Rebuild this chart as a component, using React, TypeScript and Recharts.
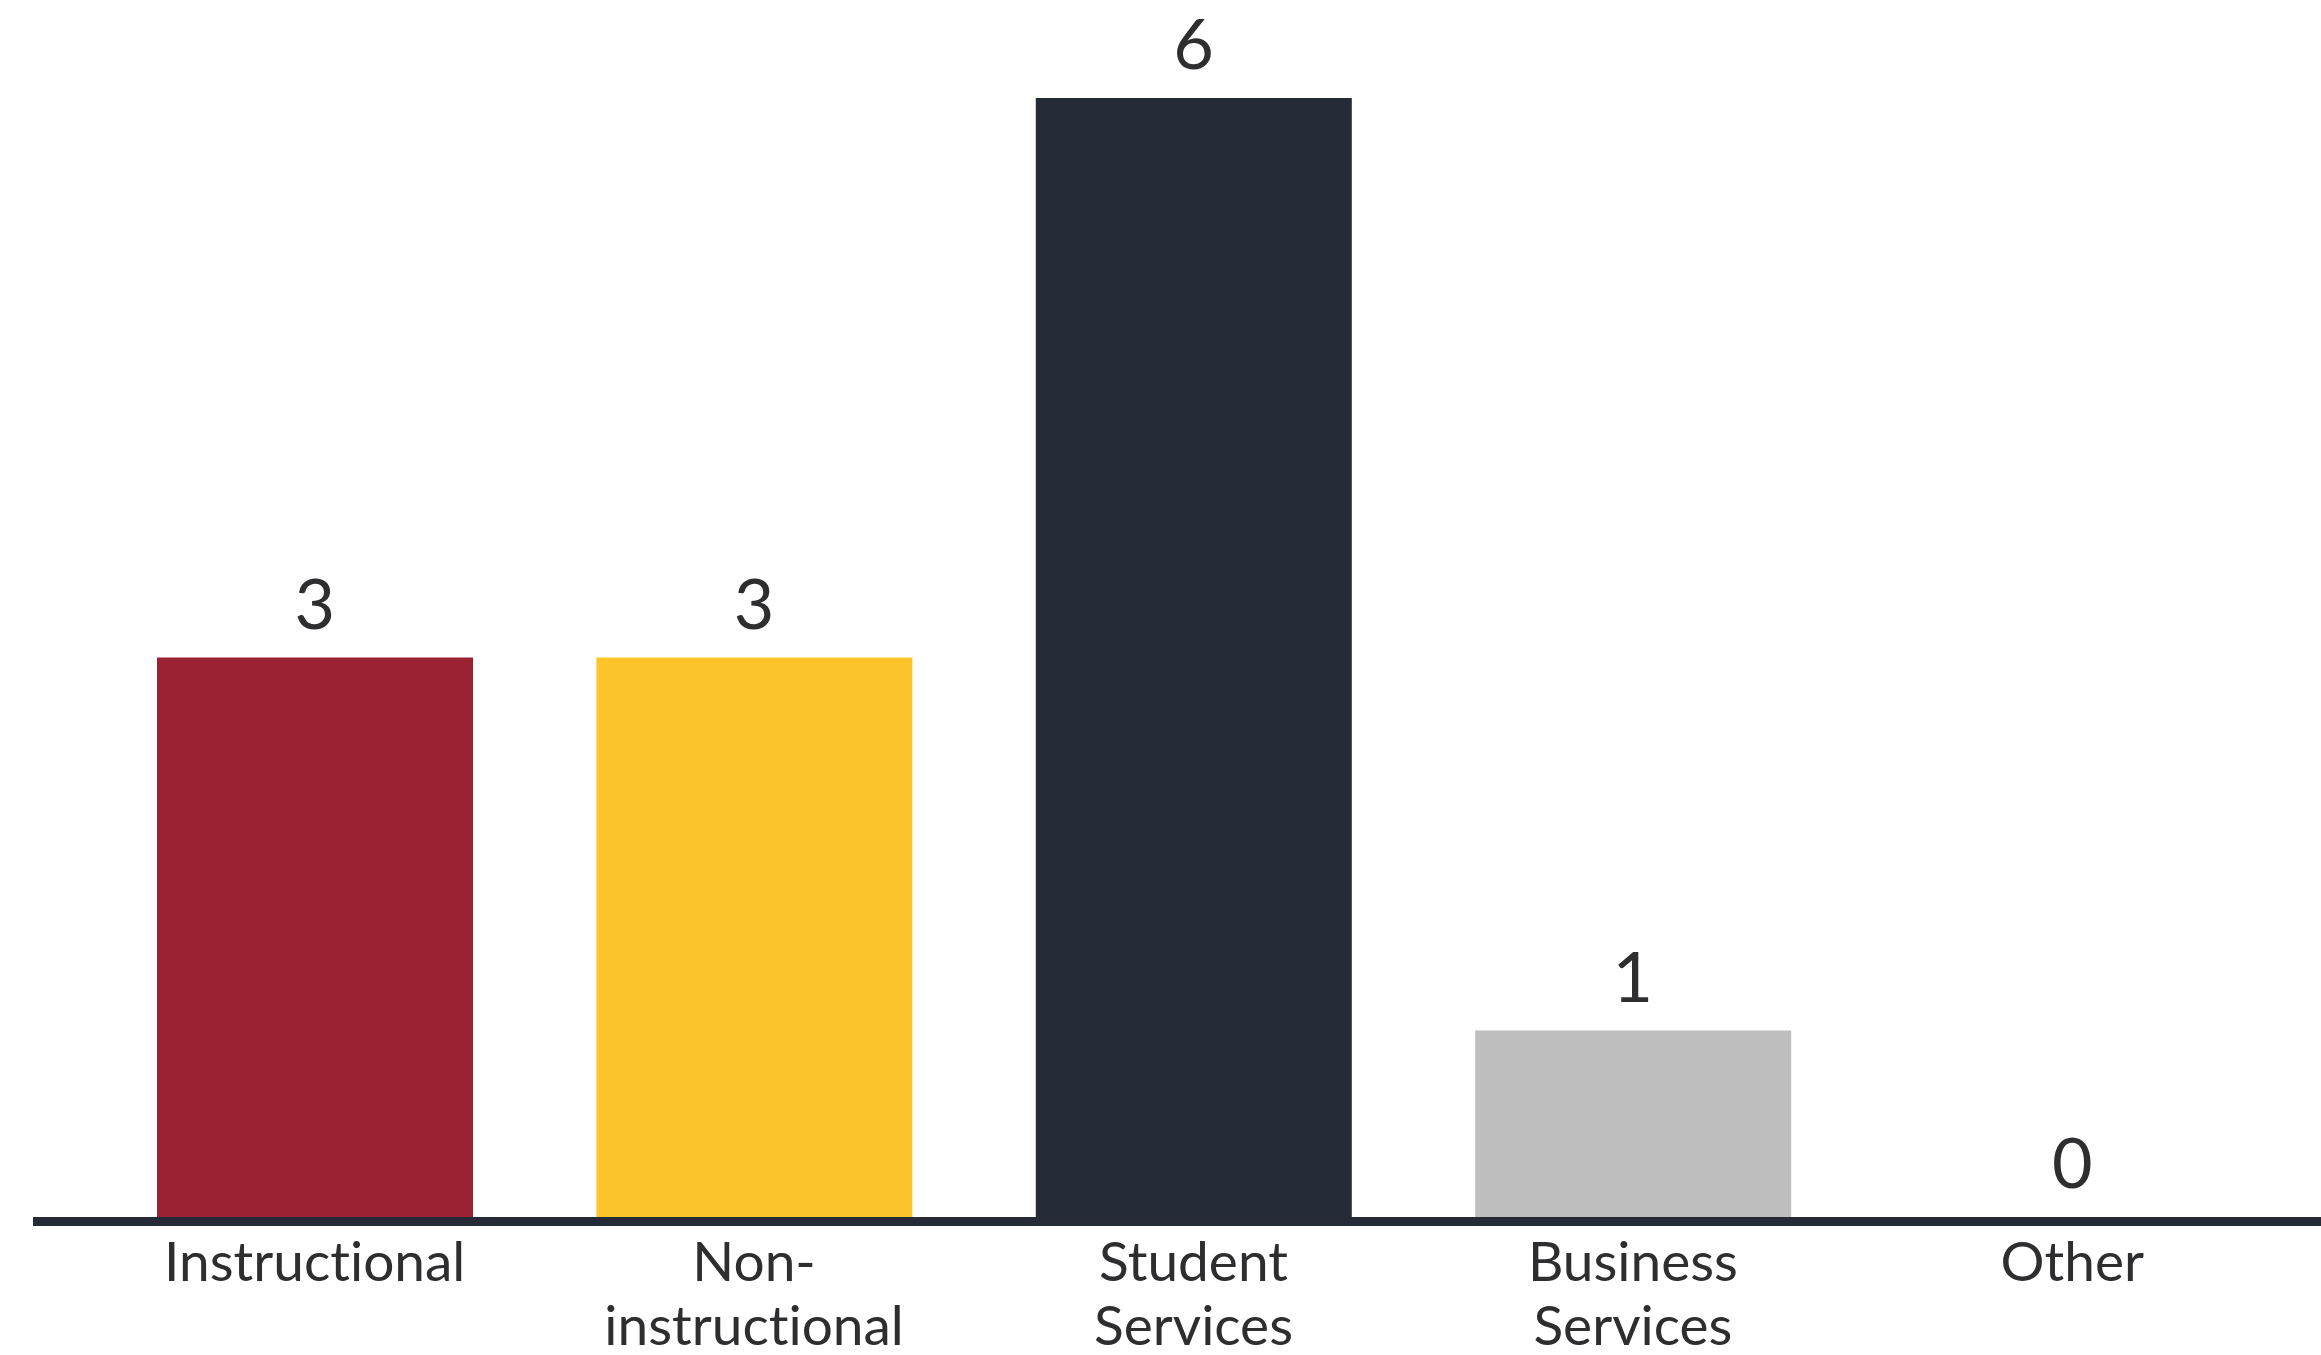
import { Bar, Cell, ComposedChart, LabelList, Line, XAxis, YAxis } from "recharts";

const CATEGORIES = [["Instructional"], ["Non-", "instructional"], ["Student", "Services"], ["Business", "Services"], ["Other"]];
const COUNTS = [3, 3, 6, 1, 0];
const BAR_COLORS = ["#9a2233", "#fdc52c", "#252a37", "#bebebe", "#bebebe"];

const FONT = "Lato, 'Open Sans', sans-serif";
const TEXT = "#2e2e30";
const NO_LIGA = { fontVariantLigatures: "none" as const };

const data = CATEGORIES.map((lines, i) => ({ name: lines.join(" "), value: COUNTS[i] }));

function CategoryTick(props: any) {
  const { x, y, index } = props;
  const lines = CATEGORIES[index] ?? [];
  return (
    <g>
      {lines.map((line, i) => (
        <text
          key={i}
          x={x}
          y={y + 64 + i * 64}
          textAnchor="middle"
          fontFamily={FONT}
          fontSize={55}
          fill={TEXT}
          style={NO_LIGA}
        >
          {line}
        </text>
      ))}
    </g>
  );
}

export default function App() {
  return (
    <div style={{ position: "absolute", left: 0, top: 0, width: 2321, height: 1355, background: "#fff" }}>
      <ComposedChart
        width={2321}
        height={1355}
        data={data}
        margin={{ top: 98, right: 0, bottom: 0, left: 33 }}
        barSize={316}
      >
        <YAxis hide domain={[0, 6]} width={0} />
        <XAxis
          dataKey="name"
          height={138}
          padding={{ left: 62, right: 29 }}
          tickLine={false}
          tickSize={0}
          tickMargin={0}
          interval={0}
          axisLine={{ stroke: "#262a36", strokeWidth: 9, transform: "translate(0,4.5)" }}
          tick={<CategoryTick />}
        />
        <Bar dataKey="value" isAnimationActive={false}>
          {data.map((_, i) => (
            <Cell key={i} fill={BAR_COLORS[i]} />
          ))}
        </Bar>
        {/* invisible line just to carry the value labels, so the 0 gets one too */}
        <Line dataKey="value" stroke="none" dot={false} activeDot={false} isAnimationActive={false}>
          <LabelList
            dataKey="value"
            position="top"
            offset={29}
            fontFamily={FONT}
            fontSize={70}
            fill={TEXT}
          />
        </Line>
      </ComposedChart>
    </div>
  );
}
